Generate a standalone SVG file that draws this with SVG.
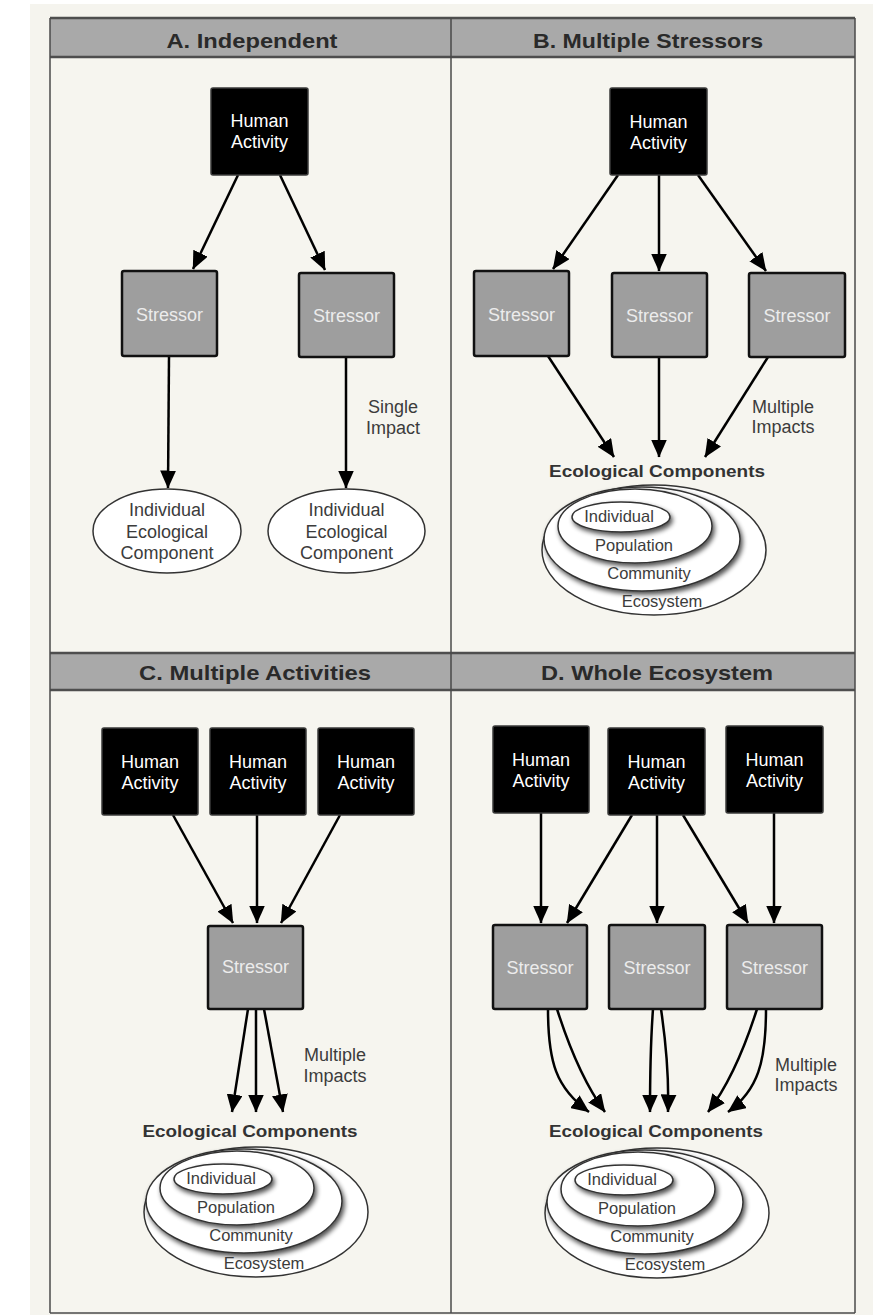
<svg xmlns="http://www.w3.org/2000/svg" width="873" height="1315" viewBox="0 0 873 1315">
<defs>
<style>
.ha{fill:#000;stroke:#3a3a3a;stroke-width:1.5}
.st{fill:#9e9e9e;stroke:#111;stroke-width:2.5}
.t{font-family:"Liberation Sans",Arial,Helvetica,sans-serif;text-anchor:middle}
.tha{font-size:18px;fill:#fff}
.tst{font-size:18px;fill:#ececec}
.lbl{font-size:18px;fill:#3c3c3c}
.hdr{font-size:21px;font-weight:bold;fill:#2a2a2a}
.eco{font-size:17px;font-weight:bold;fill:#333}
.el{font-size:16.5px;fill:#3c3c3c}
.conn path,.conn line{stroke:#000;stroke-width:2.5;fill:none;marker-end:url(#ah)}
.ell{fill:#fff;stroke:#333;stroke-width:1.5}
.frame{fill:none;stroke:#4a4a4a;stroke-width:1.5}
.hbar{fill:#a9a9a9}
.hline{stroke:#4e4e4e;stroke-width:2.5}
</style>
<marker id="ah" markerUnits="userSpaceOnUse" markerWidth="18" markerHeight="16" viewBox="0 0 18 16" refX="17.5" refY="8" orient="auto">
<path d="M0,0 L18,8 L0,16 Z" fill="#000"/>
</marker>
<filter id="sh" x="-20%" y="-30%" width="140%" height="170%">
<feGaussianBlur in="SourceAlpha" stdDeviation="2.5"/>
<feOffset dx="2" dy="3" result="b"/>
<feComponentTransfer><feFuncA type="linear" slope="0.7"/></feComponentTransfer>
<feMerge><feMergeNode/><feMergeNode in="SourceGraphic"/></feMerge>
</filter>
<g id="eco-set">
<ellipse class="ell" cx="0" cy="0" rx="112" ry="65"/>
<ellipse class="ell" cx="-12" cy="-11" rx="98" ry="52" filter="url(#sh)"/>
<ellipse class="ell" cx="-19" cy="-24" rx="77" ry="37" filter="url(#sh)"/>
<ellipse class="ell" cx="-33" cy="-33" rx="49" ry="15" filter="url(#sh)"/>
<text class="t el" x="-35" y="-28">Individual</text>
<text class="t el" x="-20" y="1">Population</text>
<text class="t el" x="-5" y="29">Community</text>
<text class="t el" x="8" y="57">Ecosystem</text>
</g>
</defs>

<rect x="0" y="0" width="873" height="1315" fill="#ffffff"/>
<rect x="30" y="4" width="843" height="1311" fill="#f5f4ee"/>
<rect x="50" y="18" width="805" height="1295" fill="#f6f5ef"/>

<g id="headers">
<rect class="hbar" x="50" y="18" width="805" height="39"/>
<line class="hline" x1="50" y1="18" x2="855" y2="18"/>
<line class="hline" x1="50" y1="57" x2="855" y2="57"/>
<rect class="hbar" x="50" y="653" width="805" height="37"/>
<line class="hline" x1="50" y1="653" x2="855" y2="653"/>
<line class="hline" x1="50" y1="690" x2="855" y2="690"/>
<text class="t hdr" x="252" y="48" textLength="171" lengthAdjust="spacingAndGlyphs">A. Independent</text>
<text class="t hdr" x="648" y="48" textLength="230" lengthAdjust="spacingAndGlyphs">B. Multiple Stressors</text>
<text class="t hdr" x="255" y="680" textLength="232" lengthAdjust="spacingAndGlyphs">C. Multiple Activities</text>
<text class="t hdr" x="657" y="680" textLength="232" lengthAdjust="spacingAndGlyphs">D. Whole Ecosystem</text>
</g>
<g id="frame">
<line class="frame" x1="50" y1="18" x2="50" y2="1313"/>
<line class="frame" x1="855" y1="18" x2="855" y2="1313"/>
<line class="frame" x1="451" y1="18" x2="451" y2="1313"/>
<line class="frame" x1="50" y1="1313" x2="855" y2="1313"/>
</g>

<!-- Connectors -->
<g id="connectors" class="conn">
<line x1="238" y1="175" x2="193" y2="269"/>
<line x1="280" y1="175" x2="325" y2="270"/>
<line x1="169" y1="356" x2="168" y2="488"/>
<line x1="346" y1="357" x2="346" y2="488"/>

<line x1="618" y1="175" x2="553" y2="269"/>
<line x1="659" y1="175" x2="659" y2="271"/>
<line x1="698" y1="175" x2="766" y2="271"/>
<line x1="548" y1="356" x2="614" y2="457"/>
<line x1="659" y1="357" x2="659" y2="457"/>
<line x1="768" y1="357" x2="705" y2="457"/>

<line x1="173" y1="815" x2="233" y2="923"/>
<line x1="257" y1="815" x2="257" y2="923"/>
<line x1="340" y1="815" x2="281" y2="923"/>
<line x1="248" y1="1009" x2="232" y2="1112"/>
<line x1="256" y1="1009" x2="256" y2="1112"/>
<line x1="264" y1="1009" x2="283" y2="1112"/>

<line x1="541" y1="813" x2="541" y2="923"/>
<line x1="632" y1="815" x2="567" y2="923"/>
<line x1="657" y1="815" x2="657" y2="923"/>
<line x1="683" y1="815" x2="748" y2="923"/>
<line x1="774" y1="813" x2="774" y2="923"/>
<path d="M548,1009 C548,1062 556,1088 589,1112"/>
<path d="M557,1009 C570,1050 586,1086 605,1112"/>
<path d="M653,1009 C650,1050 650,1080 650,1112"/>
<path d="M661,1009 C667,1050 669,1080 668,1112"/>
<path d="M757,1009 C744,1050 728,1086 708,1112"/>
<path d="M766,1009 C766,1062 758,1090 728,1112"/>
</g>

<!-- Panel A -->
<g id="a-activity">
<rect class="ha" x="211" y="88" width="97" height="87" rx="2"/>
<text class="t tha" x="259.5" y="127">Human</text>
<text class="t tha" x="259.5" y="148">Activity</text>
</g>
<g id="a-stressor1">
<rect class="st" x="122" y="271" width="95" height="85" rx="2"/>
<text class="t tst" x="169.5" y="321">Stressor</text>
</g>
<g id="a-stressor2">
<rect class="st" x="299" y="273" width="95" height="84" rx="2"/>
<text class="t tst" x="346.5" y="322">Stressor</text>
</g>
<g id="a-component1">
<ellipse class="ell" cx="167" cy="531" rx="74" ry="42"/>
<text class="t lbl" x="167" y="516">Individual</text>
<text class="t lbl" x="167" y="538">Ecological</text>
<text class="t lbl" x="167" y="559">Component</text>
</g>
<g id="a-component2">
<ellipse class="ell" cx="346.5" cy="531" rx="78.5" ry="42"/>
<text class="t lbl" x="346.5" y="516">Individual</text>
<text class="t lbl" x="346.5" y="538">Ecological</text>
<text class="t lbl" x="346.5" y="559">Component</text>
</g>
<g id="a-label">
<text class="t lbl" x="393" y="413">Single</text>
<text class="t lbl" x="393" y="434">Impact</text>
</g>

<!-- Panel B -->
<g id="b-activity">
<rect class="ha" x="610" y="88" width="97" height="87" rx="2"/>
<text class="t tha" x="658.5" y="128">Human</text>
<text class="t tha" x="658.5" y="149">Activity</text>
</g>
<g id="b-stressor1">
<rect class="st" x="474" y="271" width="95" height="85" rx="2"/>
<text class="t tst" x="521.5" y="321">Stressor</text>
</g>
<g id="b-stressor2">
<rect class="st" x="612" y="273" width="95" height="84" rx="2"/>
<text class="t tst" x="659.5" y="322">Stressor</text>
</g>
<g id="b-stressor3">
<rect class="st" x="749" y="273" width="96" height="84" rx="2"/>
<text class="t tst" x="797" y="322">Stressor</text>
</g>
<g id="b-label">
<text class="t lbl" x="783" y="413">Multiple</text>
<text class="t lbl" x="783" y="433">Impacts</text>
</g>
<g id="b-components">
<text class="t eco" x="657" y="477" textLength="216" lengthAdjust="spacingAndGlyphs">Ecological Components</text>
<use href="#eco-set" x="654" y="550"/>
</g>

<!-- Panel C -->
<g id="c-activity1">
<rect class="ha" x="102" y="728" width="96" height="87" rx="2"/>
<text class="t tha" x="150" y="768">Human</text>
<text class="t tha" x="150" y="789">Activity</text>
</g>
<g id="c-activity2">
<rect class="ha" x="210" y="728" width="96" height="87" rx="2"/>
<text class="t tha" x="258" y="768">Human</text>
<text class="t tha" x="258" y="789">Activity</text>
</g>
<g id="c-activity3">
<rect class="ha" x="318" y="728" width="96" height="87" rx="2"/>
<text class="t tha" x="366" y="768">Human</text>
<text class="t tha" x="366" y="789">Activity</text>
</g>
<g id="c-stressor">
<rect class="st" x="208" y="926" width="95" height="83" rx="2"/>
<text class="t tst" x="255.5" y="973">Stressor</text>
</g>
<g id="c-label">
<text class="t lbl" x="335" y="1061">Multiple</text>
<text class="t lbl" x="335" y="1082">Impacts</text>
</g>
<g id="c-components">
<text class="t eco" x="250" y="1137" textLength="215" lengthAdjust="spacingAndGlyphs">Ecological Components</text>
<use href="#eco-set" x="256" y="1212"/>
</g>

<!-- Panel D -->
<g id="d-activity1">
<rect class="ha" x="493" y="726" width="96" height="87" rx="2"/>
<text class="t tha" x="541" y="766">Human</text>
<text class="t tha" x="541" y="787">Activity</text>
</g>
<g id="d-activity2">
<rect class="ha" x="608" y="728" width="97" height="87" rx="2"/>
<text class="t tha" x="656.5" y="768">Human</text>
<text class="t tha" x="656.5" y="789">Activity</text>
</g>
<g id="d-activity3">
<rect class="ha" x="726" y="726" width="97" height="87" rx="2"/>
<text class="t tha" x="774.5" y="766">Human</text>
<text class="t tha" x="774.5" y="787">Activity</text>
</g>
<g id="d-stressor1">
<rect class="st" x="493" y="925" width="94" height="84" rx="2"/>
<text class="t tst" x="540" y="974">Stressor</text>
</g>
<g id="d-stressor2">
<rect class="st" x="609" y="925" width="96" height="84" rx="2"/>
<text class="t tst" x="657" y="974">Stressor</text>
</g>
<g id="d-stressor3">
<rect class="st" x="727" y="925" width="95" height="84" rx="2"/>
<text class="t tst" x="774.5" y="974">Stressor</text>
</g>
<g id="d-label">
<text class="t lbl" x="806" y="1071">Multiple</text>
<text class="t lbl" x="806" y="1091">Impacts</text>
</g>
<g id="d-components">
<text class="t eco" x="656" y="1137" textLength="214" lengthAdjust="spacingAndGlyphs">Ecological Components</text>
<use href="#eco-set" x="657" y="1213"/>
</g>
</svg>
